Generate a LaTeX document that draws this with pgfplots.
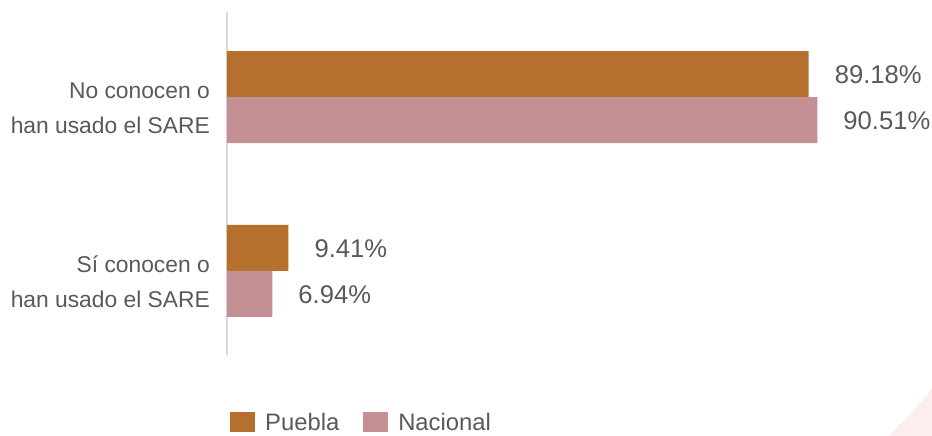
\documentclass[border=0pt]{standalone}
\usepackage{pgfplots}
\pgfplotsset{compat=1.18}
\usepackage{fontspec}
\setmainfont{Liberation Sans}
\definecolor{puebla}{HTML}{B5702E}
\definecolor{nacional}{HTML}{C49093}
\definecolor{txt}{HTML}{595959}
\definecolor{axisgray}{HTML}{D9D9D9}
\definecolor{deco}{HTML}{FAEEEE}

\begin{document}
\begin{tikzpicture}
\useasboundingbox (-227pt,-81pt) rectangle (705pt,355pt);
% decorative corner
\fill[deco] (661pt,-81pt) .. controls (685pt,-58pt) .. (705pt,-33pt) -- (705pt,-81pt) -- cycle;
\begin{axis}[
    xbar, scale only axis,
    width=705pt, height=343pt,
    xmin=0, xmax=108.1,
    ymin=-0.483, ymax=1.489,
    axis x line=none,
    axis y line*=left,
    y axis line style={axisgray, line width=2pt},
    ytick={0,1},
    yticklabels={{Sí conocen o\\han usado el SARE},{No conocen o \\han usado el SARE}},
    major tick length=0pt,
    yticklabel style={align=right, inner sep=0pt, xshift=-17pt, yshift=-11pt,
        text=txt, font=\fontsize{22.8}{35}\selectfont},
    bar width=46pt,
    nodes near coords,
    point meta=x,
    nodes near coords={\pgfmathprintnumber[fixed, precision=2, fixed zerofill, assume math mode=true]{\pgfplotspointmeta}\%},
    every node near coord/.append style={anchor=west, xshift=26pt, yshift=-1pt, inner sep=0pt,
        text=txt, font=\fontsize{25.6}{30}\selectfont},
    legend columns=-1,
    legend image code/.code={\fill[#1] (0pt,-9pt) rectangle (25pt,11pt);},
    legend style={at={(0,0)}, anchor=west, xshift=3pt, yshift=-67pt,
        draw=none, fill=none, inner sep=0pt,
        /tikz/every odd column/.append style={column sep=10pt},
        /tikz/every even column/.append style={column sep=24pt},
        nodes={inner sep=0pt, text=txt, font=\fontsize{23.8}{28}\selectfont}},
]
\addplot[fill=puebla, draw=none, bar shift=23pt] coordinates {(89.18,1) (9.41,0)};
\addplot[fill=nacional, draw=none, bar shift=-23pt] coordinates {(90.51,1) (6.94,0)};
\legend{Puebla, Nacional}
\end{axis}
\end{tikzpicture}
\end{document}
